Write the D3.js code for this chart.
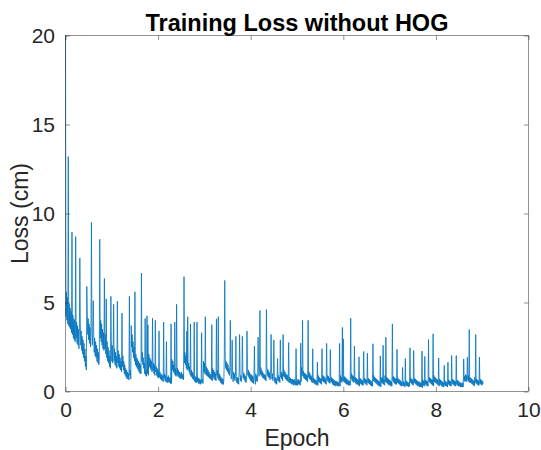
<!DOCTYPE html>
<meta charset="UTF-8">
<head>
    <title>Training Loss without HOG</title>
    <style>
        body { margin: 0; background: #fff; }
        text { font-family: "Liberation Sans", Arial, Helvetica, sans-serif; fill: #262626; }
    </style>
</head>
<body>
<svg width="541" height="450"></svg>
<script src="https://d3js.org/d3.v7.min.js"></script>
<script>

// Chart texts.
var titleText = "Training Loss without HOG";
var xLabel = "Epoch";
var yLabel = "Loss (cm)";

// Axis ticks.
var xTicks = [0, 2, 4, 6, 8, 10];
var yTicks = [0, 5, 10, 15, 20];

var samplesPerEpoch = 100;

// The noisy band between spikes, one row = 0.1 epoch.
var band0 = [6.8, 4.2, 5.6, 4.0, 5.3, 3.8, 5.0, 3.7, 4.9, 3.6,
    4.7, 3.5, 4.5, 3.3, 4.4, 3.2, 4.3, 3.0, 4.1, 2.9,
    4.0, 2.8, 4.2, 3.0, 3.9, 2.7, 3.7, 2.6, 3.5, 2.4,
    3.4, 2.3, 3.8, 2.6, 3.4, 2.3, 3.1, 2.1, 2.9, 1.9,
    2.7, 1.7, 2.4, 1.4, 2.0, 1.2, 1.7, 4.4, 3.2, 4.1,
    2.9, 3.8, 2.7, 3.6, 2.5, 3.4, 2.4, 3.6, 2.6, 3.3,
    2.3, 3.2, 2.2, 3.0, 2.0, 2.8, 1.9, 2.6, 1.7, 2.4,
    1.6, 2.2, 1.5, 1.9, 4.3, 3.0, 4.0, 2.8, 3.8, 2.6,
    3.5, 2.4, 3.3, 2.3, 3.6, 2.4, 3.2, 2.1, 3.0, 1.9,
    2.8, 1.7, 2.5, 1.6, 2.3, 1.4, 2.0, 1.3, 1.8, 2.9];
var band1 = [1.7, 2.6, 1.6, 2.4, 2.7, 1.7, 2.4, 1.5, 2.2, 1.4,
    2.0, 1.3, 2.6, 1.6, 2.3, 1.4, 2.1, 1.3, 1.9, 1.2,
    1.7, 1.1, 2.2, 1.4, 2.0, 1.2, 1.7, 1.0, 1.5, 0.9,
    1.3, 0.8, 1.2, 0.7, 1.1, 0.7, 1.0, 0.65, 1.6, 0.9,
    1.2, 0.7, 3.7, 2.5, 3.2, 2.2, 2.8, 1.9, 2.5, 1.7,
    2.2, 1.5, 2.1, 1.4, 1.9, 1.3, 1.8, 1.2, 1.7, 1.1,
    1.6, 1.0, 1.5, 1.0, 2.4, 1.7, 2.2, 1.5, 1.9, 1.3,
    1.6, 1.0, 1.4, 0.9, 1.2, 0.85, 1.6, 1.0, 1.4, 0.9,
    2.1, 1.4, 1.9, 1.3, 1.8, 1.2, 1.7, 1.1, 1.9, 1.2,
    1.6, 1.0, 1.5, 0.9, 1.7, 1.1, 1.4, 0.9, 1.3, 0.8];
var band2 = [1.2, 0.75, 1.3, 0.8, 1.1, 0.7, 1.0, 0.65, 0.95, 0.6,
    0.9, 0.55, 1.2, 0.75, 1.0, 0.6, 0.9, 0.55, 0.85, 0.5,
    0.8, 0.5, 0.9, 0.55, 0.8, 0.5, 0.75, 0.45, 0.7, 0.45,
    1.8, 1.2, 1.7, 1.1, 1.5, 1.0, 1.4, 0.9, 1.3, 0.85,
    1.5, 0.95, 1.3, 0.85, 1.2, 0.8, 1.1, 0.75, 1.0, 0.7,
    1.1, 0.75, 1.0, 0.7, 0.95, 0.65, 2.5, 1.6, 2.2, 1.5,
    2.0, 1.3, 1.8, 1.2, 1.9, 1.25, 1.6, 1.1, 1.4, 0.95,
    1.3, 0.85, 1.2, 0.8, 1.1, 0.7, 1.0, 0.65, 0.9, 0.55,
    0.85, 0.5, 0.8, 0.5, 0.9, 0.55, 0.8, 0.45, 0.75, 0.45,
    0.7, 0.4, 0.65, 0.45, 0.75, 0.5, 0.7, 0.45, 1.7, 1.1];
var band3 = [1.6, 1.0, 1.5, 0.95, 1.4, 0.9, 1.3, 0.85, 1.2, 0.8,
    1.1, 0.75, 1.0, 0.7, 0.95, 0.65, 0.9, 0.6, 1.3, 0.8,
    1.2, 0.7, 1.1, 0.65, 1.0, 0.6, 1.4, 0.9, 1.2, 0.75,
    1.1, 0.65, 1.0, 0.6, 0.9, 0.5, 0.8, 0.45, 0.75, 0.4,
    0.7, 0.4, 0.65, 2.0, 1.4, 1.9, 1.3, 1.7, 1.2, 1.6,
    1.1, 1.5, 1.0, 1.3, 0.9, 1.2, 0.8, 1.1, 0.7, 1.0,
    0.65, 0.9, 0.55, 1.1, 0.7, 1.0, 0.6, 0.9, 0.5, 0.85,
    0.5, 0.8, 0.45, 0.75, 0.4, 1.1, 0.7, 1.0, 0.6, 0.9,
    0.55, 0.85, 0.5, 1.2, 0.75, 1.05, 0.65, 0.95, 0.55, 0.85,
    0.5, 0.8, 0.45, 1.4, 0.9, 1.2, 0.8, 1.1, 0.7, 1.0];
var band4 = [0.6, 0.95, 0.55, 0.9, 0.5, 0.85, 0.45, 0.8, 0.45, 0.75,
    0.4, 1.0, 0.6, 0.9, 0.55, 0.85, 0.5, 1.3, 0.85, 1.2,
    1.5, 0.95, 1.35, 0.9, 1.2, 0.8, 1.1, 0.75, 1.0, 0.7,
    0.95, 0.65, 0.9, 0.6, 0.85, 1.4, 0.9, 1.25, 0.8, 1.15,
    0.75, 1.05, 0.65, 0.95, 0.6, 1.1, 0.7, 1.0, 0.6, 0.9,
    0.55, 0.85, 0.5, 0.8, 0.45, 0.75, 0.4, 0.7, 0.95, 0.6,
    0.9, 0.55, 0.8, 0.5, 1.2, 0.8, 1.1, 0.7, 1.0, 0.6,
    1.3, 0.85, 1.2, 0.8, 1.1, 0.7, 1.0, 0.65, 0.95, 0.6,
    0.9, 0.55, 0.85, 0.5, 0.8, 0.5, 0.75, 0.45, 0.7, 0.4,
    0.7, 0.4, 0.65, 0.35, 0.7, 0.4, 0.6, 0.35, 0.65, 0.35];
var band5 = [0.6, 0.35, 0.7, 0.4, 0.65, 0.4, 0.6, 0.35, 0.9, 0.55,
    1.35, 0.9, 1.25, 0.85, 1.15, 0.75, 1.05, 0.7, 1.0, 0.65,
    0.95, 0.6, 0.9, 0.55, 1.2, 0.8, 1.1, 0.7, 1.0, 0.65,
    0.9, 0.55, 0.85, 0.5, 0.8, 0.5, 0.75, 0.45, 0.7, 0.4,
    0.65, 0.4, 0.6, 0.35, 0.6, 0.35, 0.9, 0.55, 0.8, 0.5,
    0.75, 0.45, 0.7, 0.4, 1.0, 0.6, 0.9, 0.55, 0.85, 0.5,
    0.8, 0.45, 0.7, 0.4, 1.0, 0.65, 0.9, 0.55, 0.85, 0.5,
    0.75, 0.45, 0.9, 0.55, 0.8, 0.5, 0.75, 0.4, 0.7, 0.35,
    0.65, 0.35, 0.6, 0.3, 0.6, 0.35, 0.55, 0.3, 0.55, 0.3,
    0.5, 0.3, 0.55, 0.3, 0.9, 0.55, 0.8, 0.5, 1.0, 0.6];
var band6 = [0.9, 0.55, 0.85, 0.5, 0.8, 0.45, 0.75, 0.4, 0.7, 0.4,
    0.65, 0.35, 0.6, 0.35, 0.6, 0.35, 1.1, 0.7, 1.0, 0.6,
    0.9, 0.55, 0.85, 0.5, 0.9, 0.55, 0.8, 0.45, 0.75, 0.4,
    0.7, 0.4, 0.65, 0.35, 0.6, 0.3, 0.75, 0.45, 0.7, 0.4,
    0.65, 0.35, 0.6, 0.35, 0.8, 0.5, 0.75, 0.45, 0.7, 0.4,
    0.65, 0.35, 0.85, 0.5, 0.75, 0.45, 0.7, 0.4, 0.65, 0.35,
    0.6, 0.3, 0.55, 0.3, 0.95, 0.6, 0.9, 0.55, 0.8, 0.5,
    0.75, 0.45, 0.7, 0.4, 0.65, 0.35, 0.6, 0.3, 0.55, 0.3,
    0.5, 0.25, 0.8, 0.5, 0.75, 0.45, 0.7, 0.4, 0.65, 0.35,
    0.9, 0.55, 0.85, 0.5, 0.8, 0.45, 0.75, 0.4, 0.7, 0.35];
var band7 = [0.65, 0.35, 0.6, 0.3, 0.55, 0.3, 0.95, 0.6, 0.85, 0.5,
    0.8, 0.45, 0.75, 0.4, 0.7, 0.4, 0.8, 0.5, 0.75, 0.45,
    0.7, 0.4, 0.65, 0.35, 0.6, 0.3, 0.55, 0.3, 0.6, 0.35,
    0.55, 0.3, 0.5, 0.25, 0.65, 0.35, 0.6, 0.3, 0.55, 0.3,
    0.5, 0.25, 0.5, 0.3, 0.8, 0.5, 0.75, 0.45, 0.7, 0.4,
    0.65, 0.35, 0.8, 0.5, 0.75, 0.45, 0.7, 0.4, 0.65, 0.35,
    0.6, 0.3, 0.55, 0.3, 0.55, 0.25, 0.5, 0.25, 0.5, 0.25,
    0.45, 0.2, 0.65, 0.35, 0.6, 0.3, 0.7, 0.4, 0.65, 0.35,
    0.6, 0.3, 0.55, 0.3, 0.85, 0.55, 0.8, 0.5, 0.75, 0.45,
    0.7, 0.4, 0.65, 0.35, 0.6, 0.3, 0.9, 0.55, 0.8, 0.5];
var band8 = [0.75, 0.45, 0.7, 0.4, 0.65, 0.35, 0.6, 0.3, 0.7, 0.4,
    0.65, 0.35, 0.6, 0.3, 0.55, 0.25, 0.5, 0.25, 0.65, 0.35,
    0.6, 0.3, 0.55, 0.3, 0.5, 0.25, 0.7, 0.4, 0.65, 0.35,
    0.6, 0.3, 0.55, 0.3, 0.75, 0.45, 0.7, 0.4, 0.65, 0.35,
    0.6, 0.3, 0.55, 0.3, 0.7, 0.4, 0.65, 0.35, 0.6, 0.3,
    0.55, 0.3, 0.5, 0.25, 0.5, 0.25, 0.45, 0.25, 0.5, 0.25,
    0.9, 0.6, 0.85, 0.55, 0.95, 0.6, 0.9, 0.55, 1.0, 0.65,
    0.9, 0.55, 0.85, 0.5, 0.8, 0.5, 0.75, 0.45, 0.7, 0.4,
    0.65, 0.35, 0.6, 0.3, 0.8, 0.5, 0.75, 0.45, 0.7, 0.4,
    0.65, 0.35, 0.6, 0.35, 0.75, 0.45, 0.7, 0.4, 0.65, 0.35,
    0.6, 0.4, 0.55];

// Spikes: epoch and peak loss.
var spikeEpoch = [0, 0.06, 0.14, 0.22, 0.31, 0.46, 0.56, 0.60, 0.74, 0.84, 0.88, 0.98,
    1.04, 1.12, 1.22, 1.38, 1.50, 1.64, 1.72, 1.76, 1.78, 1.88, 1.94,
    2.02, 2.12, 2.18, 2.28, 2.36, 2.40, 2.56, 2.62, 2.64, 2.70, 2.78, 2.84, 2.94,
    3.02, 3.16, 3.26, 3.30, 3.44, 3.56, 3.60, 3.68, 3.76, 3.82, 3.92,
    4.08, 4.16, 4.20, 4.34, 4.44, 4.50, 4.58, 4.64, 4.70, 4.82, 4.98,
    5.08, 5.12, 5.24, 5.34, 5.44, 5.54, 5.64, 5.72, 5.92, 5.98,
    6.00, 6.16, 6.24, 6.34, 6.44, 6.52, 6.64, 6.80, 6.86, 6.92,
    7.06, 7.16, 7.28, 7.34, 7.44, 7.52, 7.70, 7.76, 7.84, 7.94,
    8.06, 8.18, 8.26, 8.34, 8.44, 8.60, 8.68, 8.72, 8.86, 8.94];
var spikeLoss = [20, 13.2, 8.95, 8.7, 7.5, 5.9, 9.5, 5.1, 8.55, 6.35, 5.2, 5.35,
    4.9, 5.07, 4.4, 5.35, 5.6, 6.65, 4.1, 4.25, 3.75, 4.12, 4.0,
    3.4, 3.9, 2.8, 3.8, 3.9, 4.9, 6.45, 3.4, 4.2, 3.8, 3.9, 3.9, 3.3,
    4.2, 3.75, 4.08, 4.2, 6.24, 4.0, 2.9, 3.1, 3.2, 3.1, 3.4,
    2.55, 3.05, 4.55, 4.6, 3.2, 2.9, 1.85, 2.9, 3.2, 2.75, 2.4,
    2.71, 4.0, 4.0, 2.4, 1.65, 2.4, 2.7, 2.35, 2.7, 3.6,
    2.96, 4.12, 2.55, 1.95, 2.25, 2.15, 2.68, 2.0, 2.6, 3.05,
    3.8, 2.37, 1.35, 1.85, 2.45, 2.3, 2.27, 1.97, 2.92, 3.24,
    1.88, 1.46, 1.65, 2.02, 2.02, 1.83, 1.93, 3.48, 3.2, 1.93];

// Full series: band samples with the spikes put in their places.
var loss = [].concat(band0, band1, band2, band3, band4, band5, band6, band7, band8);
spikeEpoch.forEach(function(e, i) {
    loss[Math.round(e * samplesPerEpoch)] = spikeLoss[i];
});

var svg = d3.select("svg");

// Plot box in pixels.
var plotLeft = 65.5, plotRight = 528.5, plotTop = 35.5, plotBottom = 391.5;
var tickLen = 4.6;

var x = d3.scaleLinear().domain([0, 10]).range([plotLeft, plotRight]);
var y = d3.scaleLinear().domain([0, 20]).range([plotBottom, plotTop]);

// Loss curve.
var line = d3.line()
    .x(function(d, i) { return x(i / samplesPerEpoch); })
    .y(function(d) { return y(d); });

svg.append("path")
    .datum(loss)
    .attr("fill", "none")
    .attr("stroke", "#0072BD")
    .attr("stroke-width", 0.8)
    .attr("d", line);

// Axes (ticks inward on all four sides, MATLAB box style).
function styleAxis(g) {
    g.select(".domain").remove();
    g.selectAll(".tick line").attr("stroke", "#262626").attr("stroke-width", 0.5);
    g.selectAll(".tick text")
        .attr("fill", "#262626")
        .attr("font-size", 21)
        .attr("font-family", "'Liberation Sans', Arial, Helvetica, sans-serif");
}

svg.append("g")
    .attr("transform", "translate(0," + plotBottom + ")")
    .call(d3.axisBottom(x).tickValues(xTicks).tickSize(-tickLen).tickPadding(11).tickFormat(d3.format("d")))
    .call(styleAxis);

svg.append("g")
    .attr("transform", "translate(0," + plotTop + ")")
    .call(d3.axisTop(x).tickValues(xTicks).tickSize(-tickLen).tickFormat(""))
    .call(styleAxis);

svg.append("g")
    .attr("transform", "translate(" + plotLeft + ",0)")
    .call(d3.axisLeft(y).tickValues(yTicks).tickSize(-tickLen).tickPadding(10.5).tickFormat(d3.format("d")))
    .call(styleAxis);

svg.append("g")
    .attr("transform", "translate(" + plotRight + ",0)")
    .call(d3.axisRight(y).tickValues(yTicks).tickSize(-tickLen).tickFormat(""))
    .call(styleAxis);

// Box.
svg.append("rect")
    .attr("x", plotLeft).attr("y", plotTop)
    .attr("width", plotRight - plotLeft).attr("height", plotBottom - plotTop)
    .attr("fill", "none")
    .attr("stroke", "#262626")
    .attr("stroke-width", 0.5);

// Title and labels.
svg.append("text")
    .attr("x", (plotLeft + plotRight) / 2)
    .attr("y", 31)
    .attr("text-anchor", "middle")
    .attr("font-size", 23.5)
    .attr("font-weight", "bold")
    .style("fill", "#000")
    .text(titleText);

svg.append("text")
    .attr("x", (plotLeft + plotRight) / 2)
    .attr("y", 446)
    .attr("text-anchor", "middle")
    .attr("font-size", 23)
    .text(xLabel);

svg.append("text")
    .attr("transform", "translate(28," + ((plotTop + plotBottom) / 2) + ") rotate(-90)")
    .attr("text-anchor", "middle")
    .attr("font-size", 23)
    .text(yLabel);

</script>
</body>
